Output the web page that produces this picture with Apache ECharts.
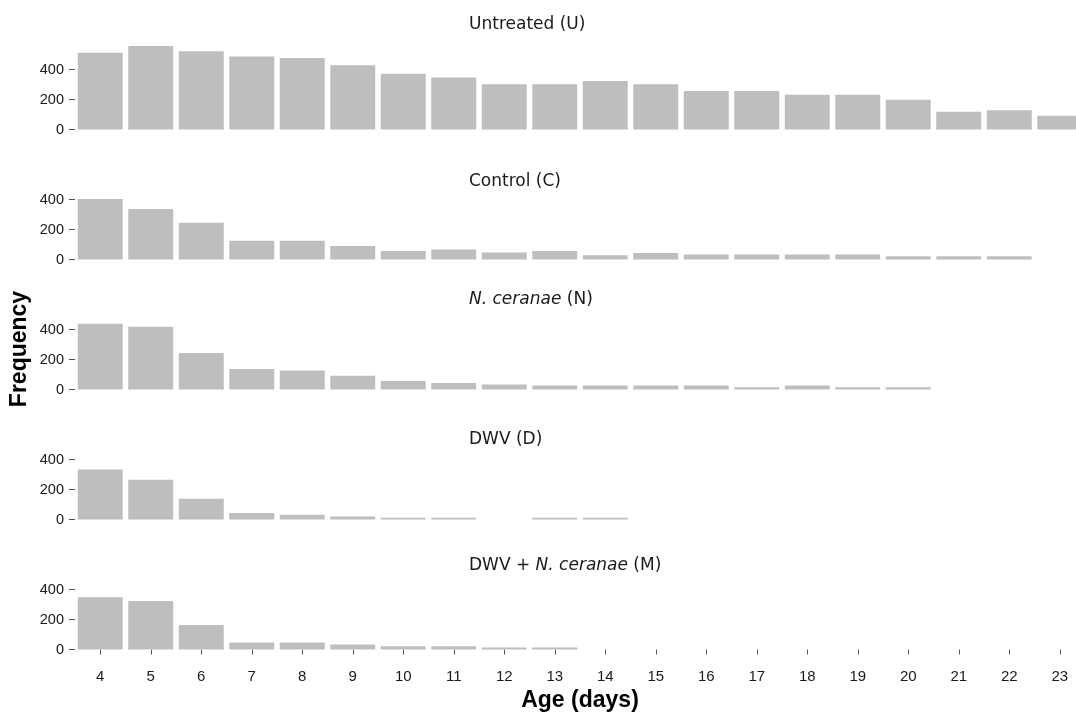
<!DOCTYPE html>
<html>
<head>
<meta charset="utf-8">
<script src="https://cdn.jsdelivr.net/npm/echarts@6/dist/echarts.min.js"></script>
<style>
html,body{margin:0;padding:0;background:#fff;overflow:hidden;}
#c{width:1085px;height:713px;}
</style>
</head>
<body>
<div id="c"></div>
<script>
var ages = ['4','5','6','7','8','9','10','11','12','13','14','15','16','17','18','19','20','21','22','23'];
var untreated = [511,556,522,487,476,429,371,347,302,302,324,302,256,256,231,231,198,118,129,91];
var control   = [404,336,245,125,125,90,57,66,46,57,29,44,33,33,33,33,22,22,22,0];
var nceranae  = [438,418,243,137,126,91,57,44,33,27,27,27,27,15,27,15,15,0,0,0];
var dwv       = [334,265,139,44,31,20,11,11,0,11,11,0,0,0,0,0,0,0,0,0];
var mixed     = [349,324,163,47,47,34,22,22,13,13,0,0,0,0,0,0,0,0,0,0];
var panelTitles = [
  'Untreated (U)',
  'Control (C)',
  '{i|N. ceranae} (N)',
  'DWV (D)',
  'DWV + {i|N. ceranae} (M)'
];
var panelData = [untreated, control, nceranae, dwv, mixed];

var chart = echarts.init(document.getElementById('c'));
var grids = [], xAxes = [], yAxes = [], series = [], titles = [];
var titleTops = [11, 168, 286, 426, 552];
var labelFont = 'Liberation Sans, Arial, sans-serif';
var titleFont = 'DejaVu Sans, sans-serif';
for (var i = 0; i < 5; i++) {
  var gridTop = 69.5 + 130 * i;
  grids.push({left: 75, right: 0, top: gridTop, height: 60, containLabel: false, outerBoundsMode: 'none'});
  var last = (i === 4);
  xAxes.push({
    type: 'category', gridIndex: i, data: ages, show: last,
    offset: 5,
    axisLine: {show: false},
    axisTick: {show: last, alignWithLabel: true, length: 5, lineStyle: {color: '#555'}},
    axisLabel: {show: last, margin: 15, color: '#1a1a1a', fontSize: 15, fontFamily: labelFont},
    name: last ? 'Age (days)' : '',
    nameLocation: 'middle', nameGap: 35,
    nameTextStyle: {fontSize: 23, fontWeight: 'bold', color: '#000', fontFamily: labelFont}
  });
  yAxes.push({
    type: 'value', gridIndex: i, min: 0, max: 400, interval: 200,
    axisLine: {show: false},
    axisTick: {show: true, length: 6, lineStyle: {color: '#555'}},
    splitLine: {show: false},
    axisLabel: {margin: 11, color: '#1a1a1a', fontSize: 14.5, fontFamily: labelFont}
  });
  series.push({
    type: 'bar', xAxisIndex: i, yAxisIndex: i, data: panelData[i],
    barCategoryGap: '11%', clip: false, silent: true,
    itemStyle: {color: '#bebebe'}
  });
  titles.push({
    text: panelTitles[i], left: 464, top: titleTops[i],
    textStyle: {
      fontSize: 17, fontWeight: 'normal', color: '#1a1a1a', fontFamily: titleFont,
      rich: {i: {fontStyle: 'italic', fontSize: 17, color: '#1a1a1a', fontFamily: titleFont}}
    }
  });
}
chart.setOption({
  animation: false,
  title: titles,
  grid: grids,
  xAxis: xAxes,
  yAxis: yAxes,
  series: series,
  graphic: [{
    type: 'text', x: 8, y: 349, rotation: Math.PI / 2,
    style: {text: 'Frequency', fontSize: 23, fontWeight: 'bold', fill: '#000',
      fontFamily: labelFont, align: 'center', verticalAlign: 'top'}
  }]
});
</script>
</body>
</html>
